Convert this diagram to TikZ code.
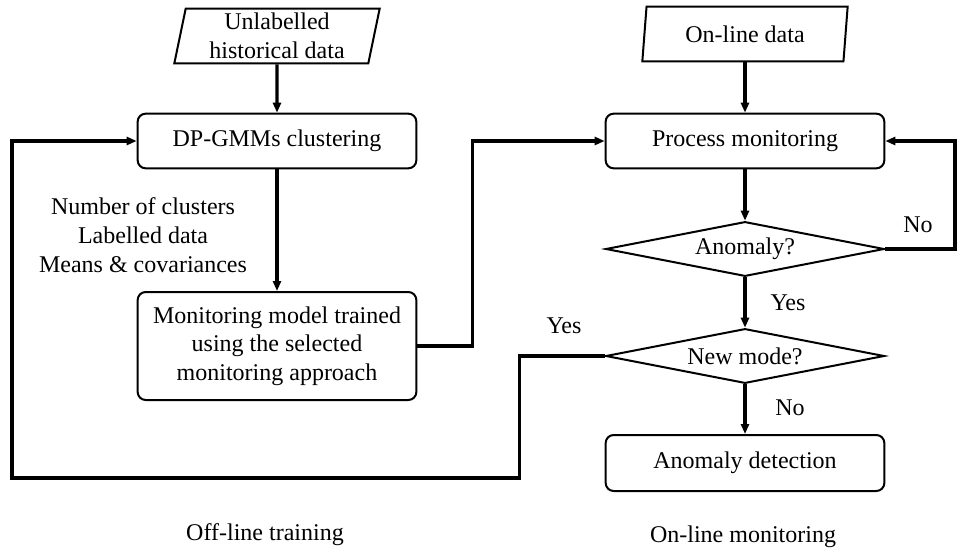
\documentclass[tikz,border=0pt]{standalone}
\usepackage{fontspec}
\setmainfont{Liberation Serif}
\usetikzlibrary{shapes.geometric,arrows.meta}
\begin{document}
\begin{tikzpicture}[x=0.75pt,y=-0.75pt,font=\fontsize{18}{21.5}\selectfont,
  box/.style={draw,line width=1.5pt,rounded corners=6pt,minimum width=209pt,inner sep=0pt,align=center},
  datain/.style={draw,line width=1.5pt,trapezium,trapezium left angle=76,trapezium right angle=104,trapezium stretches body,minimum width=154pt,minimum height=41pt,inner sep=0pt,align=center},
  decision/.style={draw,line width=1.5pt,diamond,aspect=5,inner sep=0pt,minimum width=209pt,minimum height=41pt},
  link/.style={line width=2.3pt,-{Triangle[length=7.5pt,width=6pt]}}]
\useasboundingbox (0,0) rectangle (958,554);
\node[datain] (hist) at (277,36) {Unlabelled\\historical data};
\node[box,minimum height=41pt] (dpgmm) at (277,141) {DP-GMMs clustering};
\node[box,minimum height=81pt] (train) at (277,346) {Monitoring model trained\\using the selected\\monitoring approach};
\node[align=center] (info) at (143,235) {Number of clusters\\Labelled data\\Means \& covariances};
\node[datain] (online) at (745,34) {On-line data};
\node[box,minimum height=41pt] (procmon) at (745,141) {Process monitoring};
\node[decision] (anom) at (745,249) {Anomaly?};
\node[decision] (newmode) at (745,356) {New mode?};
\node[box,minimum height=42pt] (anomdet) at (745,463) {Anomaly detection};
\coordinate (rloop) at (955,249);
\coordinate (lloop) at (12,478);
\node (nohi) at (918,225) {No};
\node (yesdn) at (788,303) {Yes};
\node (yesleft) at (564,326) {Yes};
\node (nodn) at (790,408) {No};
\node (offl) at (265,535) {Off-line training};
\node (onl) at (743,537) {On-line monitoring};
\draw[link] (hist) -- (dpgmm);
\draw[link] (dpgmm) -- (train);
\draw[link] (train.east) -- ++(55,0) |- (procmon.west);
\draw[link] (online) -- (procmon);
\draw[link] (procmon) -- (anom);
\draw[link] (anom.east) -- (rloop) |- (procmon.east);
\draw[link] (anom) -- (newmode);
\draw[link] (newmode) -- (anomdet);
\draw[link] (newmode.west) -- ++(-85,0) |- (lloop) |- (dpgmm.west);
\end{tikzpicture}
\end{document}
